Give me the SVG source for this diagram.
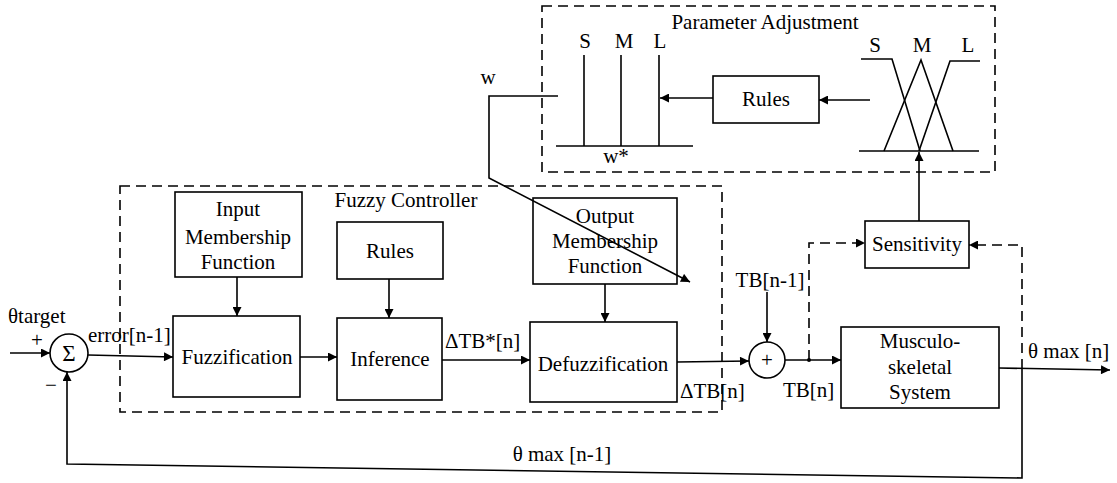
<svg xmlns="http://www.w3.org/2000/svg" width="1117" height="483" viewBox="0 0 1117 483">
<style>
text{font-family:"Liberation Serif","Times New Roman",serif;font-size:21px;fill:#000}
.c{text-anchor:middle}
.box{fill:#fff;stroke:#000;stroke-width:1.6}
.ln{fill:none;stroke:#000;stroke-width:1.6}
.dash{fill:none;stroke:#000;stroke-width:1.6;stroke-dasharray:10 6}
</style>
<defs>
<marker id="ah" viewBox="0 0 10 10" refX="10" refY="5" markerWidth="11" markerHeight="9" markerUnits="userSpaceOnUse" orient="auto">
<path d="M0,0 L10,5 L0,10 z" fill="#000"/>
</marker>
</defs>
<rect width="1117" height="483" fill="#fff"/>

<g id="fuzzy-controller-frame">
<rect x="120" y="186" width="602" height="226" class="dash"/>
<text x="406" y="207" class="c">Fuzzy Controller</text>
</g>
<g id="parameter-adjustment-frame">
<rect x="542" y="6" width="453" height="166" class="dash"/>
<text x="765" y="29" class="c">Parameter Adjustment</text>
</g>

<g id="output-singletons">
<line x1="556" y1="146" x2="693" y2="146" class="ln"/>
<line x1="584" y1="55" x2="584" y2="146" class="ln"/>
<line x1="621" y1="55" x2="621" y2="146" class="ln"/>
<line x1="659" y1="55" x2="659" y2="146" class="ln"/>
<text x="585" y="48" class="c">S</text>
<text x="624" y="48" class="c">M</text>
<text x="660" y="48" class="c">L</text>
<text x="616" y="163" class="c">w*</text>
</g>

<g id="param-rules">
<rect x="713" y="76" width="106" height="47" class="box"/>
<text x="766" y="106" class="c">Rules</text>
</g>

<g id="input-triangles">
<line x1="859" y1="151" x2="979" y2="151" class="ln"/>
<polyline points="861,59 892,59 920,151" class="ln"/>
<polyline points="884,151 921,60 953,151" class="ln"/>
<polyline points="919,151 950,61 980,61" class="ln"/>
<text x="875" y="52" class="c">S</text>
<text x="922" y="52" class="c">M</text>
<text x="968" y="52" class="c">L</text>
</g>

<g id="sensitivity">
<rect x="865" y="221" width="104" height="47" class="box"/>
<text x="917" y="251" class="c">Sensitivity</text>
</g>

<g id="input-mf">
<rect x="175" y="192" width="127" height="85" class="box"/>
<text x="238" y="216" class="c">Input</text>
<text x="238" y="244" class="c">Membership</text>
<text x="238" y="269" class="c">Function</text>
</g>

<g id="fuzzification">
<rect x="173" y="316" width="127" height="81" class="box"/>
<text x="237" y="364" class="c">Fuzzification</text>
</g>

<g id="rules">
<rect x="337" y="222" width="106" height="57" class="box"/>
<text x="390" y="258" class="c">Rules</text>
</g>

<g id="inference">
<rect x="337" y="318" width="105" height="82" class="box"/>
<text x="390" y="366" class="c">Inference</text>
</g>

<g id="output-mf">
<rect x="533" y="198" width="144" height="86" class="box"/>
<text x="605" y="223" class="c">Output</text>
<text x="605" y="248" class="c">Membership</text>
<text x="605" y="273" class="c">Function</text>
</g>

<g id="defuzzification">
<rect x="530" y="322" width="147" height="80" class="box"/>
<text x="603" y="371" class="c">Defuzzification</text>
</g>

<g id="sum-junction">
<circle cx="69" cy="353" r="19" class="box"/>
<text x="69" y="361" class="c" style="font-size:23px">Σ</text>
</g>

<g id="adder">
<circle cx="767" cy="360" r="18" class="box"/>
<text x="767" y="367" class="c">+</text>
</g>

<g id="musculoskeletal">
<rect x="841" y="327" width="158" height="81" class="box"/>
<text x="920" y="348" class="c">Musculo-</text>
<text x="920" y="374" class="c">skeletal</text>
<text x="920" y="399" class="c">System</text>
</g>

<g id="connectors">
<line x1="10" y1="353" x2="50" y2="353" class="ln" marker-end="url(#ah)"/>
<line x1="88" y1="355" x2="173" y2="357" class="ln" marker-end="url(#ah)"/>
<line x1="237" y1="277" x2="237" y2="316" class="ln" marker-end="url(#ah)"/>
<line x1="300" y1="357" x2="337" y2="357" class="ln" marker-end="url(#ah)"/>
<line x1="389" y1="279" x2="389" y2="318" class="ln" marker-end="url(#ah)"/>
<line x1="442" y1="360" x2="530" y2="360" class="ln" marker-end="url(#ah)"/>
<line x1="605" y1="284" x2="605" y2="322" class="ln" marker-end="url(#ah)"/>
<line x1="677" y1="362" x2="749" y2="361" class="ln" marker-end="url(#ah)"/>
<line x1="767" y1="292" x2="767" y2="342" class="ln" marker-end="url(#ah)"/>
<line x1="785" y1="360" x2="841" y2="360" class="ln" marker-end="url(#ah)"/>
<circle cx="809" cy="360" r="2" fill="#000"/>
<polyline points="809,360 809,243 865,243" class="dash" marker-end="url(#ah)"/>
<line x1="999" y1="368" x2="1110" y2="370" class="ln" marker-end="url(#ah)"/>
<polyline points="1022,369 1022,245 969,245" class="dash" marker-end="url(#ah)"/>
<polyline points="1022,369 1022,478 67,464 67,372" class="ln" marker-end="url(#ah)"/>
<line x1="919" y1="221" x2="919" y2="152" class="ln" marker-end="url(#ah)"/>
<line x1="870" y1="100" x2="819" y2="100" class="ln" marker-end="url(#ah)"/>
<line x1="713" y1="98" x2="660" y2="98" class="ln" marker-end="url(#ah)"/>
<polyline points="558,96 489,96 489,178 690,282" class="ln" marker-end="url(#ah)"/>
</g>

<g id="labels">
<text x="8" y="323">θtarget</text>
<text x="37" y="347" class="c">+</text>
<text x="51" y="392" class="c">−</text>
<text x="88" y="342">error[n-1]</text>
<text x="445" y="348">ΔTB*[n]</text>
<text x="680" y="398">ΔTB[n]</text>
<text x="770" y="287" class="c">TB[n-1]</text>
<text x="783" y="397">TB[n]</text>
<text x="1028" y="358">θ max [n]</text>
<text x="562" y="461" class="c">θ max [n-1]</text>
<text x="488" y="84" class="c">w</text>
</g>
</svg>
